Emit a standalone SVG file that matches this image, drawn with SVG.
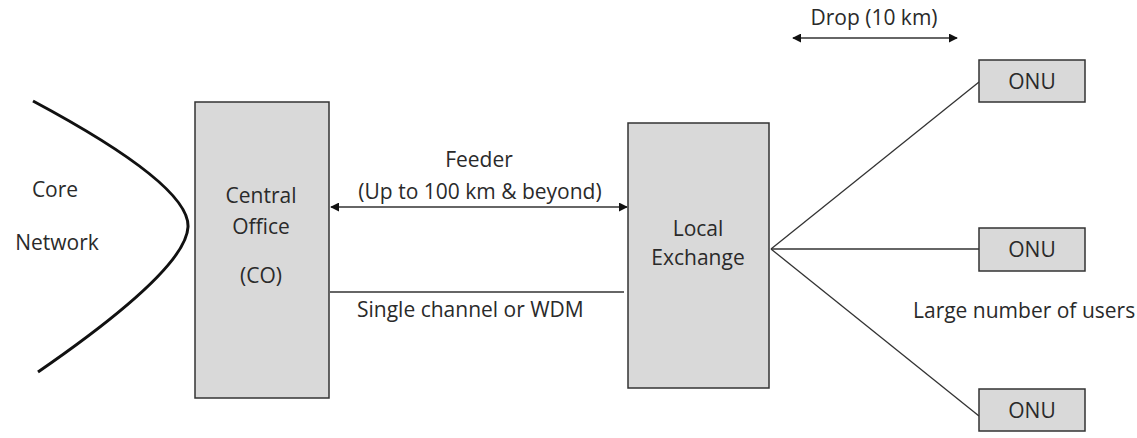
<svg xmlns="http://www.w3.org/2000/svg" width="1137" height="438" viewBox="0 0 1137 438">
<defs>
<style>
.box{fill:#d9d9d9;stroke:#333;stroke-width:1.5}
.ln{stroke:#333;stroke-width:1.3;fill:none}
.t{font-family:"Open Sans","Noto Sans",sans-serif;font-size:21px;fill:#2a2a2a}
.c{text-anchor:middle}
</style>
<marker id="ah" viewBox="0 0 10 10" refX="9" refY="5" markerWidth="9" markerHeight="9" markerUnits="userSpaceOnUse" orient="auto-start-reverse">
<path d="M0,0 L10,5 L0,10 z" fill="#111"/>
</marker>
</defs>
<rect width="1137" height="438" fill="#fff"/>
<g id="core">
<path d="M33,101 Q190,185 188,227 Q186,270 38,372" fill="none" stroke="#111" stroke-width="3"/>
<text class="t c" x="55" y="197" font-size="22.5">Core</text>
<text class="t c" x="57" y="250" font-size="22.5">Network</text>
</g>
<g id="connectors">
<line class="ln" x1="331" y1="207" x2="627" y2="207" stroke-width="2.5" marker-start="url(#ah)" marker-end="url(#ah)"/>
<line class="ln" x1="330" y1="292" x2="624" y2="292"/>
<line class="ln" x1="771" y1="249" x2="979" y2="82"/>
<line class="ln" x1="771" y1="249" x2="979" y2="249"/>
<line class="ln" x1="771" y1="249" x2="979" y2="416"/>
<line class="ln" x1="793" y1="38" x2="957" y2="38" stroke-width="2" marker-start="url(#ah)" marker-end="url(#ah)"/>
<text class="t c" x="479" y="167" font-size="20.8">Feeder</text>
<text class="t c" x="480" y="199" font-size="20.8">(Up to 100 km &amp; beyond)</text>
<text class="t" x="357" y="317">Single channel or WDM</text>
<text class="t c" x="874" y="25" font-size="20.3">Drop (10 km)</text>
<text class="t" x="913" y="318" font-size="18.2">Large number of users</text>
</g>
<g id="co">
<rect class="box" x="195" y="102" width="134" height="296"/>
<text class="t c" x="261" y="203" font-size="22">Central</text>
<text class="t c" x="261" y="234" font-size="22">Office</text>
<text class="t c" x="261" y="283" font-size="22">(CO)</text>
</g>
<g id="le">
<rect class="box" x="628" y="123" width="141" height="265"/>
<text class="t c" x="698" y="236" font-size="21.5">Local</text>
<text class="t c" x="698" y="265" font-size="21.5">Exchange</text>
</g>
<g id="onu1">
<rect class="box" x="979" y="60" width="106" height="42"/>
<text class="t c" x="1032" y="89">ONU</text>
</g>
<g id="onu2">
<rect class="box" x="979" y="228" width="106" height="43"/>
<text class="t c" x="1032" y="257">ONU</text>
</g>
<g id="onu3">
<rect class="box" x="979" y="389" width="106" height="42"/>
<text class="t c" x="1032" y="418">ONU</text>
</g>
</svg>
